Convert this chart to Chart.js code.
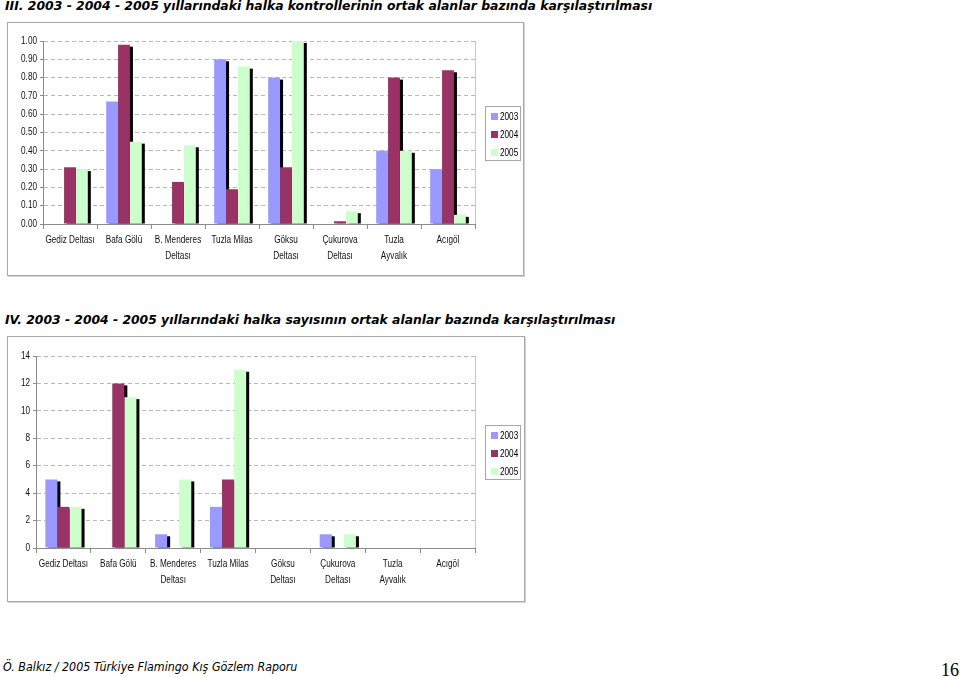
<!DOCTYPE html>
<html><head><meta charset="utf-8">
<script src="https://cdn.jsdelivr.net/npm/chart.js@4/dist/chart.umd.min.js"></script>
<style>
html,body{margin:0;padding:0;background:#fff}
body{width:960px;height:677px;position:relative;overflow:hidden}
.txt{position:absolute;white-space:nowrap;transform-origin:0 50%;line-height:16px;color:#000}
.title{font:italic bold 13px 'DejaVu Sans',sans-serif}
.box{position:absolute;border:1px solid #a8a8a8;box-shadow:1px 1px 0 #d4d4d4;background:#fff}
canvas{display:block}
</style></head>
<body>
<div class="txt title" id="t1" data-w="647" style="left:5px;top:-2px">III. 2003 - 2004 - 2005 yıllarındaki halka kontrollerinin ortak alanlar bazında karşılaştırılması</div>
<div class="box" style="left:7px;top:22px;width:515px;height:252px"><canvas id="c1" width="515" height="252"></canvas></div>
<div class="txt title" id="t2" data-w="610" style="left:5px;top:312px">IV. 2003 - 2004 - 2005 yıllarındaki halka sayısının ortak alanlar bazında karşılaştırılması</div>
<div class="box" style="left:7px;top:336px;width:516px;height:264px"><canvas id="c2" width="516" height="264"></canvas></div>
<div class="txt" id="f1" data-w="294" style="left:3px;top:659px;font:italic 13px 'DejaVu Sans',sans-serif">Ö. Balkız / 2005 Türkiye Flamingo Kış Gözlem Raporu</div>
<div class="txt" style="left:941px;top:660px;font:18px 'Liberation Serif',serif;line-height:20px">16</div>
<script>
// ---- data ----
const categories = [['Gediz Deltası'], ['Bafa Gölü'], ['B. Menderes', 'Deltası'], ['Tuzla Milas'], ['Göksu', 'Deltası'], ['Çukurova', 'Deltası'], ['Tuzla', 'Ayvalık'], ['Acıgöl']];
const seriesNames = ['2003', '2004', '2005'];
const ratio2003 = [0, 0.67, 0, 0.90, 0.80, 0, 0.40, 0.30];
const ratio2004 = [0.31, 0.98, 0.23, 0.19, 0.31, 0.015, 0.80, 0.84];
const ratio2005 = [0.30, 0.45, 0.43, 0.86, 1.00, 0.07, 0.40, 0.05];
const count2003 = [5, 0, 1, 3, 0, 1, 0, 0];
const count2004 = [3, 12, 0, 5, 0, 0, 0, 0];
const count2005 = [3, 11, 5, 13, 0, 1, 0, 0];
const ratioTicks = [0, 1, 0.1];   // min, max, step
const countTicks = [0, 14, 2];
const seriesColors = ['#9999FF', '#993366', '#CCFFCC'];

// fit text widths
document.querySelectorAll('.txt[data-w]').forEach(el => {
  const w = +el.dataset.w;
  el.style.transform = 'scaleX(' + (w / el.offsetWidth) + ')';
});

const FONT = "'Liberation Sans',Arial,sans-serif";
const NARROW = 0.82; // emulate a narrow sans face

const shadowPlugin = {
  id: 'barShadow',
  beforeInit(chart) {
    const ctx = chart.ctx;
    const orig = ctx.fillText.bind(ctx);
    ctx.fillText = function (t, x, y) {
      ctx.save();
      ctx.translate(x, y);
      ctx.scale(NARROW, 1);
      orig(t, 0, 0);
      ctx.restore();
    };
  },
  beforeDatasetsDraw(chart) {
    const ctx = chart.ctx;
    ctx.save();
    ctx.fillStyle = '#000';
    chart.getSortedVisibleDatasetMetas().forEach(meta => {
      meta.data.forEach((el, i) => {
        const v = chart.data.datasets[meta.index].data[i];
        if (!v) return;
        const p = el.getProps(['x', 'y', 'base', 'width'], true);
        const h = p.base - p.y - 2;
        if (h > 0) ctx.fillRect(p.x - p.width / 2 + 3, p.y + 2, p.width, h);
      });
    });
    ctx.restore();
  },
  afterDraw(chart) {
    const ctx = chart.ctx, a = chart.chartArea;
    ctx.save();
    ctx.strokeStyle = '#c8c8c8';
    ctx.lineWidth = 1;
    ctx.beginPath();
    ctx.moveTo(Math.round(a.right) + 0.5, a.top);
    ctx.lineTo(Math.round(a.right) + 0.5, a.bottom);
    ctx.stroke();
    // legend
    const bx = Math.round(a.right) + 10, bw = 35, bh = 54;
    const by = Math.round((a.top + a.bottom) / 2 - bh / 2);
    ctx.strokeStyle = '#a8a8a8';
    ctx.strokeRect(bx + 0.5, by + 0.5, bw, bh);
    ctx.font = '10px ' + FONT;
    ctx.textBaseline = 'middle';
    ctx.textAlign = 'left';
    chart.data.datasets.forEach((ds, i) => {
      const cy = by + 10 + i * 18;
      ctx.fillStyle = ds.backgroundColor;
      ctx.fillRect(bx + 6, cy - 3, 7, 7);
      ctx.fillStyle = '#000';
      ctx.fillText(ds.label, bx + 15, cy + 1);
    });
    ctx.restore();
  }
};

function makeChart(id, series, ticks, decimals, pad, yWidth, xHeight) {
  return new Chart(document.getElementById(id), {
    type: 'bar',
    data: {
      labels: categories,
      datasets: series.map((d, i) => ({
        label: seriesNames[i], data: d, backgroundColor: seriesColors[i],
        borderWidth: 0, categoryPercentage: 0.66, barPercentage: 1.0
      }))
    },
    options: {
      responsive: false, animation: false,
      layout: { padding: pad },
      plugins: { legend: { display: false }, tooltip: { enabled: false } },
      scales: {
        x: {
          grid: { display: true, drawOnChartArea: false, drawTicks: true, tickLength: 5, color: '#8c8c8c' },
          border: { display: true, color: '#8c8c8c' },
          ticks: { color: '#111', font: { size: 10, family: FONT, lineHeight: 1.6 }, padding: 3, maxRotation: 0, autoSkip: false },
          afterFit: s => { s.height = xHeight; }
        },
        y: {
          min: ticks[0], max: ticks[1],
          grid: { color: '#b8b8b8', tickLength: 3, tickColor: '#8c8c8c', tickBorderDash: [] },
          border: { display: true, color: '#8c8c8c', dash: [4, 3] },
          ticks: { stepSize: ticks[2], color: '#111', padding: 3, font: { size: 10, family: FONT },
            callback: v => Number(v).toFixed(decimals) },
          afterFit: s => { s.width = yWidth; }
        }
      }
    },
    plugins: [shadowPlugin]
  });
}

makeChart('c1', [ratio2003, ratio2004, ratio2005], ratioTicks, 2, { left: 0, top: 18, right: 48, bottom: 0 }, 35, 51);
makeChart('c2', [count2003, count2004, count2005], countTicks, 0, { left: 0, top: 19, right: 49, bottom: 0 }, 28, 53);
</script>
</body></html>
